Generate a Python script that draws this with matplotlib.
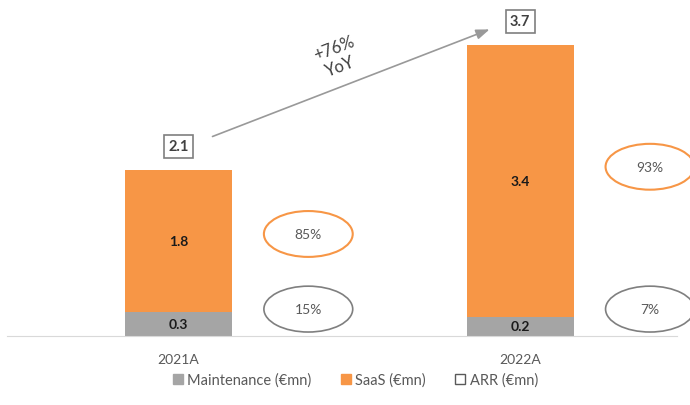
import matplotlib.pyplot as plt
from matplotlib.patches import Ellipse, Patch
import numpy as np

plt.rcParams['font.family'] = ['Lato', 'DejaVu Sans']

years = ['2021A', '2022A']
maintenance = [0.3, 0.24]
saas = [1.8, 3.44]
saas_share = ['85%', '93%']
maint_share = ['15%', '7%']
growth = '+76%\nYoY'

grey = '#A5A5A5'
orange = '#F79646'
txt = '#595959'

arr = [m + s for m, s in zip(maintenance, saas)]

fig = plt.figure(figsize=(6.9, 4.06), dpi=100)
ax = fig.add_axes([0.0101, 0.170, 0.971, 0.818])

x = np.arange(len(years))
w = 0.313
ax.bar(x, maintenance, w, color=grey)
ax.bar(x, saas, w, bottom=maintenance, color=orange)

# segment labels
for i in range(len(years)):
    ax.text(x[i], maintenance[i] / 2, '%.1f' % maintenance[i], ha='center', va='center',
            fontsize=10, fontweight='bold', color='#1a1a1a')
    ax.text(x[i], maintenance[i] + saas[i] / 2, '%.1f' % saas[i], ha='center', va='center',
            fontsize=10, fontweight='bold', color='#1a1a1a')
    # ARR total box
    ax.annotate('%.1f' % arr[i], (x[i], arr[i]), xytext=(0, 17), textcoords='offset points',
                ha='center', va='center', fontsize=10.5, fontweight='bold', color='#404040',
                bbox=dict(boxstyle='square,pad=0.3', fc='white', ec='#7F7F7F', lw=1.2))

# share ellipses
saas_y = [1.29, 2.14]
for i in range(len(years)):
    ex = x[i] + 0.38
    e1 = Ellipse((ex, saas_y[i]), 0.26, 0.58, fc='white', ec=orange, lw=1.5, clip_on=False)
    e2 = Ellipse((ex, 0.34), 0.26, 0.58, fc='white', ec='#7F7F7F', lw=1.2, clip_on=False)
    ax.add_patch(e1)
    ax.add_patch(e2)
    ax.text(ex, saas_y[i], saas_share[i], ha='center', va='center', fontsize=10, color=txt)
    ax.text(ex, 0.34, maint_share[i], ha='center', va='center', fontsize=10, color=txt)

# growth arrow
ax.annotate('', xy=(x[1] - 0.082, arr[1] + 0.21), xytext=(x[0] + 0.092, arr[0] + 0.41),
            arrowprops=dict(arrowstyle='-|>,head_length=0.8,head_width=0.3', color='#999999', lw=1.2))
ax.text(0.464, 3.53, growth, rotation=21, ha='center', va='center', fontsize=12,
        color='#404040', linespacing=1.2, rotation_mode='anchor')

ax.set_xlim(-0.502, 1.459)
ax.set_ylim(0, 4.2)
ax.set_yticks([])
ax.set_xticks(x)
ax.set_xticklabels(years, fontsize=10, color=txt)
ax.tick_params(axis='x', length=0, pad=12)
for s in ['top', 'right', 'left']:
    ax.spines[s].set_visible(False)
ax.spines['bottom'].set_color('#D9D9D9')

handles = [Patch(fc=grey, ec=grey), Patch(fc=orange, ec=orange), Patch(fc='white', ec='#595959')]
fig.legend(handles, ['Maintenance (€mn)', 'SaaS (€mn)', 'ARR (€mn)'], loc='center',
           bbox_to_anchor=(0.515, 0.062), ncol=3, frameon=False, fontsize=10.5,
           handlelength=0.7, handleheight=0.7, handletextpad=0.3, columnspacing=2.0,
           labelcolor=txt)

plt.savefig('out.png', dpi=100)
